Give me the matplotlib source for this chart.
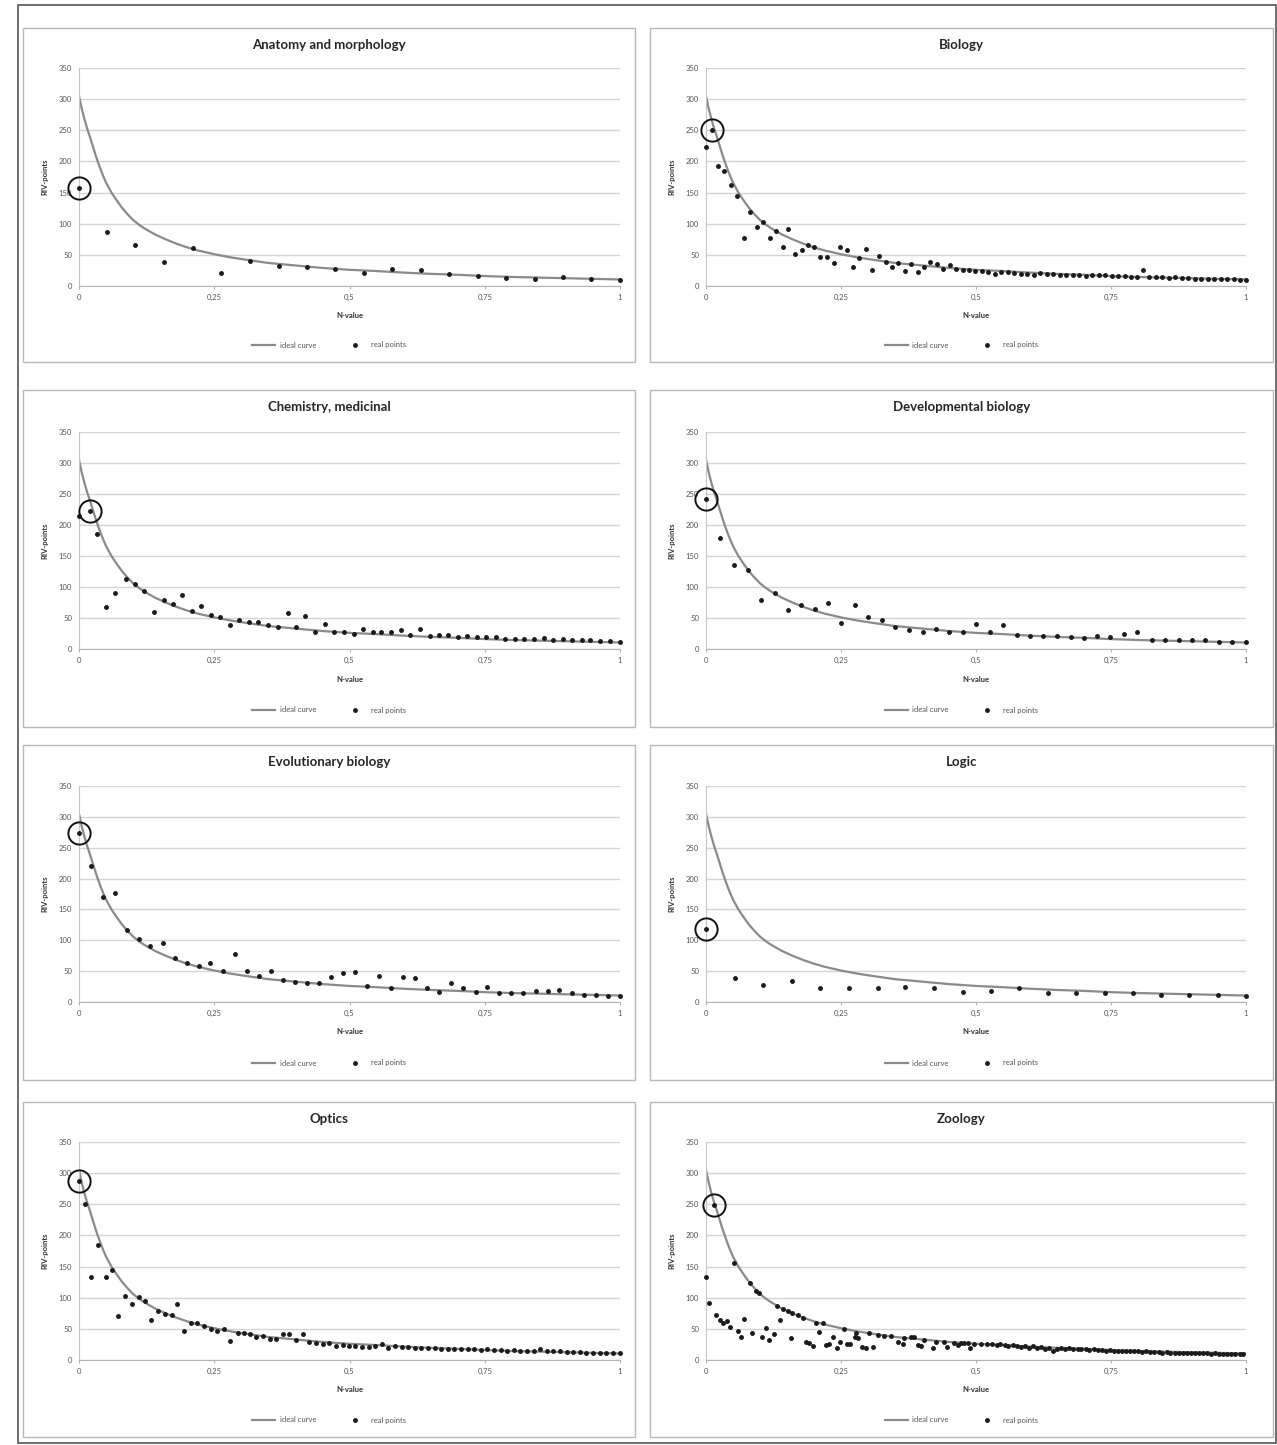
import matplotlib
matplotlib.use('Agg')
import matplotlib.pyplot as plt
from matplotlib.patches import Rectangle
from matplotlib.lines import Line2D

plt.rcParams['font.family'] = ['Lato', 'DejaVu Sans']

# ideal curve (same in every panel)
ideal_x = [0, 0.005, 0.01, 0.015, 0.02, 0.025, 0.03, 0.035, 0.04, 0.045, 0.05, 0.06,
           0.07, 0.08, 0.09, 0.10, 0.11, 0.12, 0.13, 0.14, 0.16, 0.18, 0.20, 0.22,
           0.25, 0.28, 0.31, 0.35, 0.40, 0.45, 0.50, 0.55, 0.60, 0.65, 0.70, 0.75,
           0.80, 0.85, 0.90, 0.95, 1.00]
ideal_y = [305, 285, 268, 253, 240, 226, 212, 199, 187, 176, 166, 150,
           137, 125, 115, 106, 99, 93, 88, 83, 75, 68, 62, 57,
           51, 46, 42, 37, 33, 29, 26, 24, 21.5, 19.5, 18, 16,
           14.5, 13.5, 12.5, 11.5, 10.5]

anat_x = [0, 0.051, 0.103, 0.157, 0.21, 0.263, 0.316, 0.369, 0.422, 0.473,
          0.526, 0.578, 0.632, 0.684, 0.737, 0.789, 0.842, 0.894, 0.946, 1.0]
anat_y = [157, 87, 66, 39, 61, 21, 40, 32, 31, 27,
          21, 27, 26, 19, 16, 13, 12, 15, 11, 10]

bio_x = [0, 0.011, 0.023, 0.034, 0.046, 0.058, 0.071, 0.082, 0.094, 0.106,
         0.118, 0.130, 0.142, 0.152, 0.165, 0.177, 0.188, 0.200, 0.212, 0.224,
         0.237, 0.248, 0.261, 0.272, 0.284, 0.297, 0.308, 0.320, 0.333, 0.344,
         0.356, 0.368, 0.380, 0.392, 0.404, 0.414, 0.427, 0.439, 0.452, 0.463,
         0.475, 0.487, 0.499, 0.511, 0.523, 0.535, 0.547, 0.559, 0.571, 0.583,
         0.595, 0.607, 0.619, 0.631, 0.643, 0.655, 0.667, 0.679, 0.691, 0.703,
         0.715, 0.727, 0.739, 0.751, 0.763, 0.775, 0.787, 0.799, 0.809, 0.821,
         0.833, 0.845, 0.857, 0.869, 0.881, 0.893, 0.905, 0.917, 0.929, 0.941,
         0.953, 0.965, 0.977, 0.989, 1.0]
bio_y = [223, 251, 192, 185, 162, 145, 77, 119, 94, 102,
         77, 88, 62, 91, 51, 58, 66, 62, 47, 47,
         37, 62, 58, 31, 45, 60, 25, 48, 39, 31,
         37, 24, 35, 22, 31, 38, 35, 28, 34, 27,
         25, 25, 24, 24, 23, 19, 22, 22, 21, 20,
         19, 18, 21, 19, 20, 18, 18, 18, 17, 16,
         17, 17, 17, 16, 16, 16, 15, 15, 26, 14,
         14, 14, 13, 14, 13, 13, 12, 12, 12, 12,
         12, 11, 11, 10, 10]

chem_x = [0, 0.02, 0.033, 0.05, 0.067, 0.086, 0.104, 0.12, 0.138, 0.157,
          0.173, 0.19, 0.208, 0.226, 0.244, 0.261, 0.279, 0.296, 0.314, 0.331,
          0.349, 0.367, 0.386, 0.402, 0.418, 0.437, 0.454, 0.472, 0.489, 0.508,
          0.525, 0.543, 0.559, 0.577, 0.595, 0.612, 0.631, 0.649, 0.666, 0.682,
          0.7, 0.718, 0.735, 0.753, 0.77, 0.788, 0.806, 0.823, 0.841, 0.859,
          0.876, 0.894, 0.911, 0.929, 0.945, 0.963, 0.982, 1.0]
chem_y = [214, 223, 186, 68, 90, 113, 105, 93, 60, 79,
          72, 87, 62, 70, 55, 52, 39, 46, 44, 44,
          39, 36, 58, 35, 53, 28, 41, 27, 28, 25,
          32, 28, 27, 27, 30, 23, 32, 21, 23, 23,
          20, 21, 19, 20, 19, 16, 16, 16, 16, 18,
          15, 16, 14, 14, 14, 13, 13, 12]

dev_x = [0, 0.026, 0.051, 0.077, 0.101, 0.127, 0.151, 0.176, 0.201, 0.226,
         0.25, 0.276, 0.3, 0.326, 0.35, 0.376, 0.401, 0.425, 0.45, 0.475,
         0.5, 0.525, 0.55, 0.576, 0.6, 0.624, 0.65, 0.675, 0.7, 0.724,
         0.749, 0.774, 0.799, 0.825, 0.85, 0.875, 0.9, 0.924, 0.95, 0.974, 1.0]
dev_y = [242, 179, 135, 128, 79, 91, 63, 71, 64, 75,
         42, 71, 52, 47, 35, 31, 28, 32, 28, 27,
         41, 28, 38, 23, 21, 21, 21, 19, 18, 21,
         19, 24, 27, 15, 14, 14, 14, 15, 12, 12, 12]

evo_x = [0, 0.022, 0.045, 0.067, 0.088, 0.11, 0.132, 0.156, 0.178, 0.2,
         0.221, 0.243, 0.267, 0.289, 0.311, 0.333, 0.355, 0.377, 0.399, 0.421,
         0.444, 0.466, 0.488, 0.51, 0.532, 0.554, 0.577, 0.599, 0.621, 0.643,
         0.666, 0.688, 0.71, 0.733, 0.755, 0.777, 0.799, 0.821, 0.844, 0.867,
         0.888, 0.911, 0.933, 0.955, 0.978, 1.0]
evo_y = [274, 220, 170, 177, 116, 102, 91, 95, 71, 63,
         58, 63, 50, 77, 50, 42, 51, 36, 32, 31,
         31, 41, 47, 49, 26, 42, 22, 41, 39, 22,
         16, 30, 22, 16, 24, 15, 15, 15, 18, 18,
         19, 15, 12, 11, 10, 10]

logic_x = [0, 0.054, 0.106, 0.159, 0.211, 0.264, 0.318, 0.369, 0.423, 0.475,
           0.527, 0.579, 0.633, 0.685, 0.738, 0.791, 0.843, 0.895, 0.948, 1.0]
logic_y = [119, 39, 27, 34, 23, 23, 23, 24, 23, 17,
           18, 22, 14, 14, 15, 14, 12, 11, 11, 10]

opt_x = [0, 0.011, 0.023, 0.036, 0.049, 0.061, 0.073, 0.085, 0.098, 0.11,
         0.122, 0.134, 0.146, 0.159, 0.171, 0.182, 0.194, 0.207, 0.219, 0.231,
         0.244, 0.256, 0.268, 0.28, 0.293, 0.305, 0.317, 0.328, 0.341, 0.353,
         0.365, 0.378, 0.389, 0.402, 0.414, 0.426, 0.439, 0.451, 0.463, 0.475,
         0.488, 0.499, 0.511, 0.524, 0.536, 0.548, 0.560, 0.572, 0.585, 0.597,
         0.609, 0.621, 0.633, 0.646, 0.658, 0.670, 0.682, 0.694, 0.707, 0.719,
         0.731, 0.743, 0.755, 0.768, 0.780, 0.792, 0.804, 0.816, 0.829, 0.841,
         0.853, 0.865, 0.877, 0.890, 0.902, 0.914, 0.926, 0.938, 0.951, 0.963,
         0.975, 0.987, 1.0]
opt_y = [287, 251, 134, 185, 134, 144, 71, 103, 90, 101,
         95, 64, 78, 74, 72, 90, 47, 60, 60, 54,
         50, 47, 49, 31, 43, 43, 42, 37, 39, 33,
         33, 42, 42, 32, 42, 29, 28, 25, 28, 22,
         24, 23, 22, 21, 21, 22, 25, 20, 23, 21,
         21, 20, 20, 19, 19, 18, 18, 17, 18, 17,
         17, 16, 17, 16, 16, 15, 16, 15, 15, 14,
         17, 14, 14, 14, 13, 13, 13, 12, 12, 12,
         11, 11, 11]

zoo_x = [0.014, 0.0, 0.006, 0.019, 0.026, 0.032, 0.038, 0.045, 0.052, 0.059,
         0.065, 0.071, 0.082, 0.085, 0.093, 0.099, 0.103, 0.111, 0.117, 0.125,
         0.131, 0.137, 0.142, 0.151, 0.157, 0.160, 0.170, 0.179, 0.185, 0.190,
         0.198, 0.204, 0.210, 0.216, 0.222, 0.228, 0.236, 0.243, 0.249, 0.256,
         0.261, 0.267, 0.276, 0.278, 0.282, 0.288, 0.296, 0.302, 0.309, 0.318,
         0.330, 0.343, 0.355, 0.364, 0.367, 0.380, 0.386, 0.392, 0.398, 0.404,
         0.420, 0.426, 0.441, 0.446, 0.460, 0.466, 0.472, 0.478, 0.485, 0.488,
         0.497, 0.509, 0.521,
         0.530, 0.538, 0.545, 0.553, 0.560, 0.568, 0.575, 0.583, 0.590, 0.598,
         0.605, 0.613, 0.620, 0.628, 0.635, 0.643, 0.650, 0.658, 0.665, 0.673,
         0.680, 0.688, 0.695, 0.703, 0.710, 0.718, 0.725, 0.733, 0.740, 0.748,
         0.755, 0.763, 0.770, 0.778, 0.785, 0.793, 0.800, 0.808, 0.815, 0.823,
         0.830, 0.838, 0.845, 0.853, 0.860, 0.868, 0.875, 0.883, 0.890, 0.898,
         0.905, 0.913, 0.920, 0.928, 0.935, 0.943, 0.950, 0.958, 0.965, 0.973,
         0.980, 0.988, 0.995]
zoo_y = [249, 133, 92, 72, 65, 60, 62, 53, 156, 47,
         37, 66, 123, 43, 111, 107, 37, 51, 32, 41,
         87, 64, 82, 79, 36, 75, 72, 68, 29, 27,
         22, 60, 45, 59, 24, 25, 37, 20, 29, 50,
         25, 25, 37, 43, 35, 21, 20, 43, 21, 40,
         39, 39, 29, 26, 36, 37, 37, 24, 22, 32,
         19, 29, 29, 21, 27, 24, 27, 28, 28, 19,
         26, 25, 25,
         25, 24, 25, 24, 23, 24, 22, 21, 23, 20,
         22, 19, 21, 17, 20, 14, 18, 20, 18, 19,
         18, 17, 18, 17, 16, 17, 16, 16, 15, 16,
         15, 15, 14, 15, 14, 14, 14, 13, 14, 13,
         13, 13, 12, 13, 12, 12, 12, 12, 11, 12,
         11, 11, 11, 11, 10, 11, 10, 10, 10, 10,
         10, 10, 9.5]

titles = ['Anatomy and morphology', 'Biology', 'Chemistry, medicinal',
          'Developmental biology', 'Evolutionary biology', 'Logic',
          'Optics', 'Zoology']
series = [(anat_x, anat_y), (bio_x, bio_y), (chem_x, chem_y), (dev_x, dev_y),
          (evo_x, evo_y), (logic_x, logic_y), (opt_x, opt_y), (zoo_x, zoo_y)]
circled = [0, 1, 1, 0, 0, 0, 0, 0]

x_ticks = [0, 0.25, 0.5, 0.75, 1]
x_tick_labels = ['0', '0,25', '0,5', '0,75', '1']
y_ticks = [0, 50, 100, 150, 200, 250, 300, 350]

W, H = 1277, 1445
col_axes = [(79, 620), (706, 1246)]
col_box = [(23, 635), (650, 1273)]
row_axes = [(68, 286), (432, 649), (786, 1002), (1142, 1360)]
row_box = [(28, 362), (390, 727), (745, 1080), (1102, 1437)]


def fx(px):
    return px / W


def fy(py):
    return 1 - py / H


fig = plt.figure(figsize=(W / 100, H / 100), dpi=100)
fig.patch.set_facecolor('white')

# thin frame round the whole picture
fig.add_artist(Rectangle((fx(18), fy(1443)), fx(1276) - fx(18), fy(5) - fy(1443),
                         transform=fig.transFigure, fill=False,
                         edgecolor='#555555', lw=1.2))

curve_col = '#8a8a8a'
point_col = '#1a1a1a'
point_ms = 2.5

for i, title in enumerate(titles):
    r, c = divmod(i, 2)
    ax_l, ax_r = col_axes[c]
    ax_t, ax_b = row_axes[r]
    bx_l, bx_r = col_box[c]
    bx_t, bx_b = row_box[r]

    fig.add_artist(Rectangle((fx(bx_l), fy(bx_b)), fx(bx_r) - fx(bx_l), fy(bx_t) - fy(bx_b),
                             transform=fig.transFigure, fill=False,
                             edgecolor='#b8b8b8', lw=1.0))

    ax = fig.add_axes([fx(ax_l), fy(ax_b), fx(ax_r) - fx(ax_l), (ax_b - ax_t) / H])
    xs, ys = series[i]
    ax.plot(ideal_x, ideal_y, color=curve_col, lw=1.6, zorder=2)
    ax.plot(xs, ys, 'o', ms=point_ms, color=point_col, clip_on=False, zorder=3)
    ci = circled[i]
    ax.plot(xs[ci], ys[ci], 'o', ms=16, mfc='none', mec='#111111', mew=1.4,
            clip_on=False, zorder=4)

    ax.set_xlim(0, 1)
    ax.set_ylim(0, 350)
    ax.set_xticks(x_ticks)
    ax.set_xticklabels(x_tick_labels)
    ax.set_yticks(y_ticks)
    ax.grid(axis='y', color='#d4d4d4', lw=1.0)
    ax.set_axisbelow(True)
    for s in ('top', 'right'):
        ax.spines[s].set_visible(False)
    ax.spines['left'].set_color('#c4c4c4')
    ax.spines['bottom'].set_color('#b4b4b4')
    ax.tick_params(axis='y', length=0, pad=5, labelsize=5.5, labelcolor='#555555')
    ax.tick_params(axis='x', length=2, color='#b4b4b4', pad=4, labelsize=5.5,
                   labelcolor='#555555')

    fig.text(fx((bx_l + bx_r) / 2), fy(bx_t + 17), title, ha='center', va='center',
             fontsize=9.5, fontweight='bold', color='#262626')
    fig.text(fx((ax_l + ax_r) / 2), fy(ax_b + 30), 'N-value', ha='center', va='center',
             fontsize=5.5, fontweight='bold', color='#333333')
    fig.text(fx(ax_l - 34), fy((ax_t + ax_b) / 2), 'RIV-points', ha='center', va='center',
             rotation=90, fontsize=5.5, fontweight='bold', color='#333333')

    handles = [Line2D([], [], color=curve_col, lw=1.6),
               Line2D([], [], ls='none', marker='o', ms=point_ms, color=point_col)]
    ax.legend(handles, ['ideal curve', 'real points'], loc='center',
              bbox_to_anchor=(fx((bx_l + bx_r) / 2), fy(bx_b - 17)),
              bbox_transform=fig.transFigure, ncol=2, frameon=False,
              fontsize=5.5, labelcolor='#555555', handlelength=3,
              columnspacing=3.5, handletextpad=0.6)

fig.savefig('out.png', dpi=100, facecolor='white')
